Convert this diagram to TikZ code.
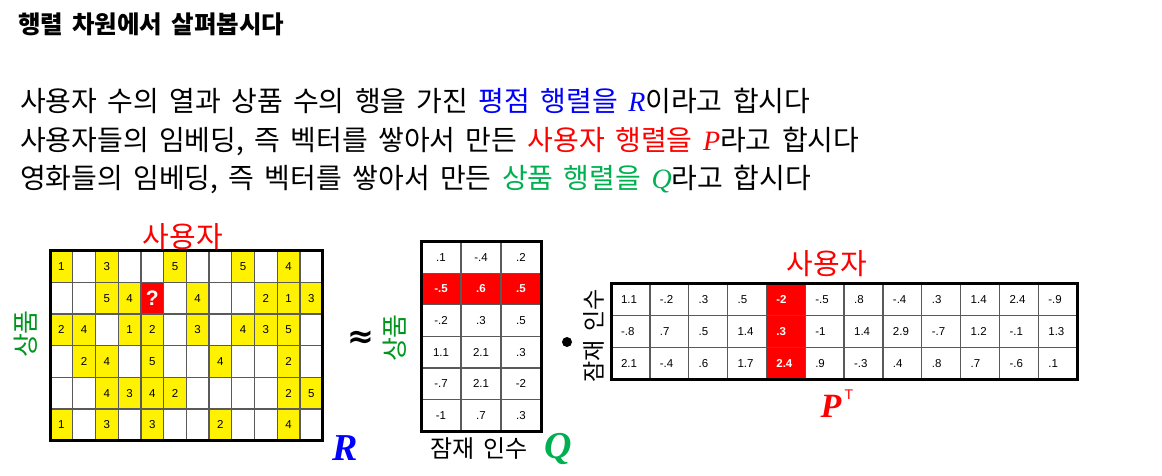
\documentclass[tikz,border=0pt]{standalone}
\usepackage{fontspec}
\setmainfont{Noto Sans CJK KR}[WordSpace=1.65]
\newfontfamily\cellfont{Liberation Sans}
\newfontfamily\serifit{Liberation Serif}
\newfontfamily\symfont{DejaVu Sans}
\definecolor{pblue}{RGB}{0,0,255}
\definecolor{pred}{RGB}{255,0,0}
\definecolor{pgreen}{RGB}{0,176,80}
\definecolor{lgreen}{RGB}{0,150,30}
\definecolor{gridgray}{RGB}{90,90,90}
\tikzset{
  every node/.style={inner sep=0pt, outer sep=0pt},
  cellbase/.style={rectangle, draw=gridgray, line width=1.3pt, font=\cellfont\fontsize{11.5}{12}\selectfont},
  rc/.style={cellbase, minimum width=22.72pt, minimum height=31.67pt},
  qc/.style={cellbase, minimum width=40pt, minimum height=31.55pt},
  pc/.style={cellbase, minimum width=38.85pt, minimum height=32pt, text width=18.85pt, align=left},
  hl/.style={fill=pred, text=white, font=\cellfont\bfseries\fontsize{11.5}{12}\selectfont},
  outer/.style={draw=black, line width=3pt},
  body/.style={anchor=base west, font=\fontsize{28}{30}\selectfont},
  lab/.style={font=\fontsize{29}{31}\selectfont},
  rlab/.style={font=\fontsize{26}{28}\selectfont, rotate=90},
  big/.style={font=\serifit\bfseries\itshape\fontsize{38}{40}\selectfont},
}
\begin{document}
\begin{tikzpicture}[x=1pt, y=-1pt]
\useasboundingbox (0,0) rectangle (1162,476);

% title and text lines
\node[anchor=base west, font=\bfseries\fontsize{24.5}{26}\selectfont] (title) at (18,34) {행렬 차원에서 살펴봅시다};
\node[body] (l1) at (20,112) {사용자 수의 열과 상품 수의 행을 가진 \textcolor{pblue}{평점 행렬을 {\serifit\itshape R}}이라고 합시다};
\node[body] (l2) at (20,151) {사용자들의 임베딩, 즉 벡터를 쌓아서 만든 \textcolor{pred}{사용자 행렬을 {\serifit\itshape P}}라고 합시다};
\node[body] (l3) at (20,189) {영화들의 임베딩, 즉 벡터를 쌓아서 만든 \textcolor{pgreen}{상품 행렬을 {\serifit\itshape Q}}라고 합시다};

% R matrix
\foreach \i in {0,...,5}{
  \foreach \j in {0,...,11}{
    \node[rc] (R-\i-\j) at ({50+22.72*(\j+0.5)},{250.7+31.67*(\i+0.5)}) {};
  }
}
\foreach \i/\j/\v in {0/0/1,0/2/3,0/5/5,0/8/5,0/10/4,
  1/2/5,1/3/4,1/6/4,1/9/2,1/10/1,1/11/3,
  2/0/2,2/1/4,2/3/1,2/4/2,2/6/3,2/8/4,2/9/3,2/10/5,
  3/1/2,3/2/4,3/4/5,3/7/4,3/10/2,
  4/2/4,4/3/3,4/4/4,4/5/2,4/10/2,4/11/5,
  5/0/1,5/2/3,5/4/3,5/7/2,5/10/4}
  \node[rc, fill=yellow] (Rv-\i-\j) at (R-\i-\j) {\v};
\node[rc, fill=pred, text=white, font=\cellfont\bfseries\fontsize{21}{22}\selectfont] (Rq) at (R-1-4) {?};
\draw[outer] (R-0-0.north west) rectangle (R-5-11.south east);
\node[lab, text=pred] (Ruser) at (183,237) {사용자};
\node[rlab, text=lgreen] (Ritem) at (26,334) {상품};
\node[big, text=pblue] (Rname) at (345,448) {R};

\node[font=\symfont\bfseries\fontsize{32}{32}\selectfont] (approx) at (361,339) {≈};

% Q matrix
\foreach \row [count=\i from 0] in {{.1,-.4,.2},{-.5,.6,.5},{-.2,.3,.5},{1.1,2.1,.3},{-.7,2.1,-2},{-1,.7,.3}}{
  \foreach \v [count=\j from 0] in \row {
    \node[qc] (Q-\i-\j) at ({421+40*(\j+0.5)},{241.7+31.55*(\i+0.5)}) {\v};
  }
}
\foreach \j/\v in {0/-.5,1/.6,2/.5}
  \node[qc, hl] (Qh-\j) at (Q-1-\j) {\v};
\draw[outer] (Q-0-0.north west) rectangle (Q-5-2.south east);
\node[rlab, text=lgreen] (Qitem) at (395,338) {상품};
\node[font=\fontsize{24}{26}\selectfont] (Qlat) at (479,449) {잠재 인수};
\node[big, text=pgreen] (Qname) at (558,449) {Q};

\node[circle, fill=black, minimum size=10pt] (dot) at (567,342) {};

% P transpose matrix
\foreach \row [count=\i from 0] in {{1.1,-.2,.3,.5,-2,-.5,.8,-.4,.3,1.4,2.4,-.9},{-.8,.7,.5,1.4,.3,-1,1.4,2.9,-.7,1.2,-.1,1.3},{2.1,-.4,.6,1.7,2.4,.9,-.3,.4,.8,.7,-.6,.1}}{
  \foreach \v [count=\j from 0] in \row {
    \node[pc] (P-\i-\j) at ({611+38.85*(\j+0.5)},{283.3+32*(\i+0.5)}) {\v};
  }
}
\foreach \i/\v in {0/-2,1/.3,2/2.4}
  \node[pc, hl] (Ph-\i) at (P-\i-4) {\v};
\draw[outer] (P-0-0.north west) rectangle (P-2-11.south east);
\node[lab, text=pred] (Puser) at (827,264) {사용자};
\node[font=\fontsize{23}{25}\selectfont, rotate=90] (Plat) at (594,336) {잠재 인수};
\node[big, text=pred, font=\serifit\bfseries\itshape\fontsize{34}{36}\selectfont] (Pname) at (831,406) {P};
\node[text=pred, font=\cellfont\fontsize{14}{14}\selectfont] (Psup) at (849,395) {T};
\end{tikzpicture}
\end{document}
